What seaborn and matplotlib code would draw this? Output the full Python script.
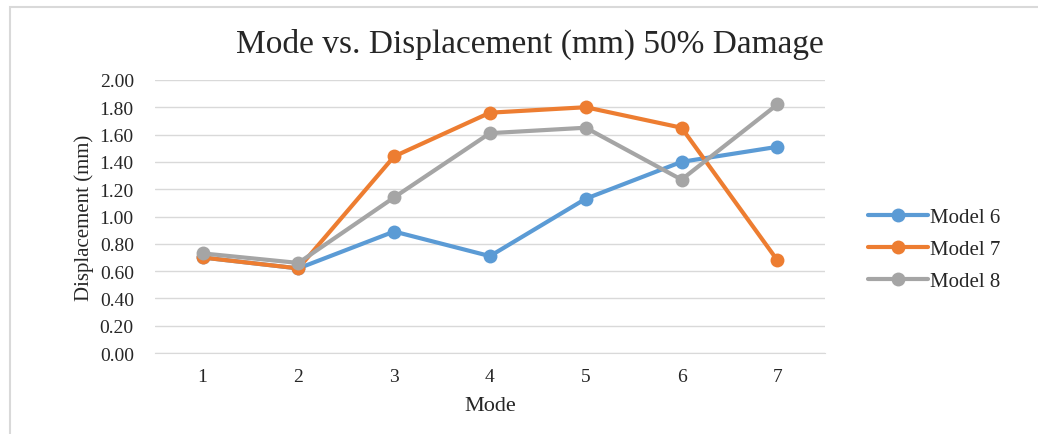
import pandas as pd
import matplotlib.pyplot as plt
import seaborn as sns
from matplotlib.patches import Rectangle

# =====================
# DATA
# =====================
modes = [1, 2, 3, 4, 5, 6, 7]
model_6 = [0.70, 0.62, 0.89, 0.71, 1.13, 1.40, 1.51]
model_7 = [0.70, 0.62, 1.44, 1.76, 1.80, 1.65, 0.68]
model_8 = [0.73, 0.66, 1.14, 1.61, 1.65, 1.27, 1.82]
series_names = ["Model 6", "Model 7", "Model 8"]
colors = ["#5B9BD5", "#ED7D31", "#A5A5A5"]
y_ticks = [0.0, 0.2, 0.4, 0.6, 0.8, 1.0, 1.2, 1.4, 1.6, 1.8, 2.0]

df = pd.DataFrame({"Mode": modes * 3,
                   "Displacement": model_6 + model_7 + model_8,
                   "Series": [n for n in series_names for _ in modes]})

# =====================
# PLOT
# =====================
sns.set_style("white")
plt.rcParams['font.family'] = ['Liberation Serif', 'DejaVu Serif']

fig = plt.figure(figsize=(10.38, 4.35), dpi=100)
ax = fig.add_axes([0.149, 0.186, 0.646, 0.628])

# outer chart frame (only top and left edges visible in the reference)
fig.patches.append(Rectangle((10 / 1038, -0.1), 1.2, 1 - 8 / 435 + 0.1,
                             transform=fig.transFigure, fill=False,
                             edgecolor="#D9D9D9", linewidth=1.5, zorder=0))

sns.lineplot(data=df, x="Mode", y="Displacement", hue="Series",
             palette=colors, marker="o", markersize=10, markeredgewidth=0,
             linewidth=3, ax=ax, zorder=3)

ax.set_xlim(0.5, 7.5)
ax.set_ylim(0, 2.0)
ax.set_xticks(modes)
ax.set_yticks(y_ticks)
ax.set_yticklabels([f"{v:.2f}" for v in y_ticks])
ax.yaxis.grid(True, color="#D9D9D9", linewidth=1)
ax.set_axisbelow(True)
for s in ["top", "right", "left"]:
    ax.spines[s].set_visible(False)
ax.spines["bottom"].set_color("#D9D9D9")
ax.tick_params(axis="both", length=0, labelsize=14, pad=11)
ax.tick_params(axis="y", pad=15)

ax.set_xlabel("Mode", fontsize=16, labelpad=8)
ax.set_ylabel("Displacement (mm)", fontsize=15, labelpad=4)
fig.text(0.51, 0.898, "Mode vs. Displacement (mm) 50% Damage",
         ha="center", va="center", fontsize=24)

ax.legend(title=None, frameon=False, fontsize=15,
          loc="center left", bbox_to_anchor=(0.818, 0.424),
          bbox_transform=fig.transFigure,
          handlelength=2.9, labelspacing=0.6, handletextpad=0.1)

plt.savefig("out.png", dpi=100)
plt.close()
